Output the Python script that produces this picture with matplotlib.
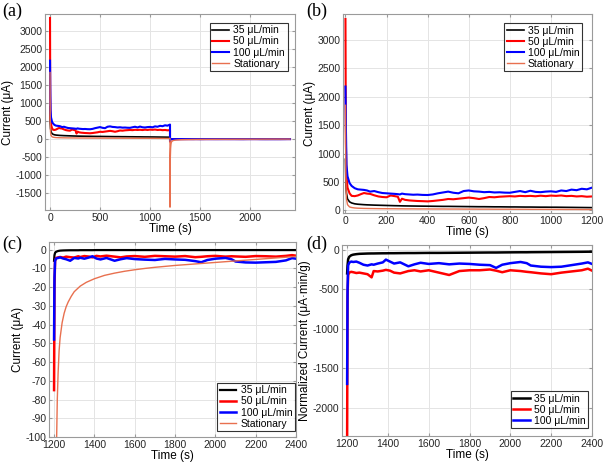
import numpy as np
import matplotlib
matplotlib.use("Agg")
import matplotlib.pyplot as plt

plt.rcParams["font.family"] = ["Liberation Sans", "DejaVu Sans"]
plt.rcParams["axes.unicode_minus"] = False

# charging phase, 0-1200 s (current in uA)
t_chg = [0, 2, 5, 10, 20, 30, 45, 60, 75, 90, 105, 120, 140, 160, 180, 200, 220, 240,
         255, 265, 275, 290, 310, 330, 350, 375, 400, 425, 450, 475, 500, 525, 550, 575,
         600, 625, 650, 675, 700, 725, 750, 775, 800, 825, 850, 875, 900, 925, 950, 975,
         1000, 1025, 1050, 1075, 1100, 1125, 1150, 1175, 1200]
chg_35 = [900, 450, 300, 200, 150, 130, 115, 108, 104, 100, 97, 95, 92, 90, 88, 86, 84, 82,
          81, 80, 79, 78, 77, 76, 75, 74, 73, 72, 71, 70, 70, 69, 68, 67,
          66, 65, 64, 64, 63, 62, 62, 61, 60, 60, 59, 58, 58, 57, 56, 56,
          55, 55, 54, 53, 52, 51, 50, 49, 48]
chg_50 = [3370, 1200, 600, 400, 300, 255, 250, 262, 285, 305, 295, 290, 265, 245, 235, 230, 262, 250,
          240, 150, 205, 185, 175, 170, 165, 162, 158, 165, 175, 185, 200, 195, 205, 215,
          225, 215, 200, 215, 235, 230, 240, 245, 250, 245, 255, 250, 255, 248, 258, 250,
          260, 255, 262, 250, 255, 245, 250, 240, 245]
chg_100 = [2180, 1500, 800, 600, 480, 430, 390, 370, 365, 360, 350, 330, 340, 320, 305, 300, 295, 290,
           285, 280, 295, 285, 280, 275, 278, 272, 270, 280, 300, 315, 330, 310, 300, 340,
           350, 335, 330, 320, 325, 315, 318, 312, 310, 325, 340, 320, 345, 325, 320, 330,
           335, 325, 350, 340, 365, 355, 380, 370, 400]
chg_st = [1850, 500, 200, 100, 60, 50, 42, 38, 36, 34, 33, 32, 31, 30, 29, 29, 28, 28,
          27, 27, 27, 26, 26, 26, 25, 25, 25, 24, 24, 24, 23, 23, 23, 22,
          22, 22, 21, 21, 21, 20, 20, 20, 20, 19, 19, 19, 18, 18, 18, 18,
          17, 17, 17, 16, 16, 16, 15, 15, 15]

# discharge phase, 1200-2400 s (current in uA)
t_dis = [1200, 1202, 1205, 1210, 1220, 1230, 1245, 1260, 1280, 1300, 1320, 1330, 1350, 1375,
         1390, 1410, 1430, 1460, 1500, 1530, 1560, 1600, 1650, 1700, 1750, 1800, 1850, 1900,
         1930, 1960, 2000, 2050, 2080, 2100, 2150, 2200, 2250, 2300, 2350, 2380, 2400]
dis_35 = [-6, -3, -1.8, -1.2, -0.8, -0.6, -0.5, -0.45, -0.4, -0.4, -0.4, -0.35, -0.35, -0.35,
          -0.35, -0.3, -0.3, -0.3, -0.3, -0.3, -0.3, -0.3, -0.3, -0.3, -0.3, -0.3, -0.3, -0.3,
          -0.3, -0.3, -0.3, -0.3, -0.3, -0.3, -0.3, -0.3, -0.3, -0.3, -0.3, -0.3, -0.3]
dis_50 = [-75, -20, -6, -4.5, -4.2, -4, -4.3, -3.8, -4.1, -4.3, -3.6, -4, -3.5, -3.8,
          -4.2, -3.4, -3.7, -3.3, -3.8, -4.2, -3.7, -3.5, -3.9, -3.4, -3.6, -3.8, -3.5, -4.1,
          -3.9, -3.6, -3.4, -3.8, -3.6, -3.7, -3.9, -3.5, -3.6, -3.8, -3.4, -3.0, -3.3]
dis_100 = [-48, -15, -6, -4.8, -4.5, -4.2, -4.8, -5.2, -6, -4.5, -4.8, -4.4, -4.9, -4.2,
           -3.6, -4.8, -5.3, -4.5, -6, -5.2, -4.6, -5.1, -5.4, -5.6, -5.0, -5.3, -5.5, -6.2,
           -6.8, -5.6, -4.9, -4.5, -5.2, -6.4, -6.9, -7, -6.8, -6.6, -5.8, -4.6, -4.9]
# stationary cell recorded on a denser grid around the spike
t_st = [1200, 1203, 1206, 1209, 1212, 1216, 1220, 1225, 1230, 1240, 1250, 1260, 1270, 1285,
        1300, 1330, 1360, 1400, 1450, 1500, 1550, 1600, 1650, 1700, 1750, 1800, 1850, 1900,
        1950, 2000, 2050, 2100, 2150, 2200, 2250, 2300, 2350, 2400]
dis_st = [-1900, -520, -260, -160, -105, -80, -66, -54, -47, -39, -34, -30.5, -28, -25,
          -22.5, -19.5, -17.5, -15.6, -13.8, -12.6, -11.6, -10.8, -10.1, -9.5, -9.0, -8.5, -8.1, -7.7,
          -7.3, -6.9, -6.5, -6.1, -5.7, -5.3, -4.9, -4.5, -4.1, -3.7]

# normalized discharge current (uA*min/g)
norm_35 = [-300, -200, -120, -90, -70, -62, -56, -52, -50, -48, -47, -47, -46, -45,
           -45, -44, -44, -43, -42, -42, -41, -40, -40, -39, -38, -37, -36, -35,
           -35, -34, -33, -32, -32, -31, -30, -29, -28, -27, -26, -25, -25]
norm_50 = [-2400, -600, -320, -290, -280, -285, -295, -290, -300, -310, -350, -270, -275, -265,
           -255, -265, -290, -300, -270, -260, -275, -260, -290, -320, -270, -260, -260, -250,
           -265, -285, -260, -270, -280, -285, -300, -310, -290, -275, -260, -240, -265]
norm_100 = [-1700, -500, -200, -165, -150, -155, -150, -165, -190, -200, -185, -190, -175, -160,
            -125, -150, -175, -160, -210, -185, -165, -180, -170, -185, -175, -180, -190, -195,
            -230, -190, -170, -155, -170, -200, -215, -220, -215, -195, -175, -160, -180]

labels = ["35 \u03bcL/min", "50 \u03bcL/min", "100 \u03bcL/min", "Stationary"]
colors = ["black", "#ff0000", "#0000ff", "#e8704f"]


def style(ax):
    ax.grid(True, color="#e4e4e4", linewidth=0.7)
    ax.set_axisbelow(True)
    for s in ax.spines.values():
        s.set_color("#9a9a9a")
        s.set_linewidth(0.8)
    ax.tick_params(direction="in", length=2.5, labelsize=7.5, colors="#9a9a9a",
                   labelcolor="#262626", top=True, right=True, pad=2)
    ax.xaxis.label.set_size(8.5)
    ax.yaxis.label.set_size(8.5)


def add_legend(ax, loc, anchor):
    leg = ax.legend(loc=loc, bbox_to_anchor=anchor, fontsize=7.5, frameon=True,
                    fancybox=False, edgecolor="black", handlelength=1.6,
                    handletextpad=0.4, borderpad=0.25, labelspacing=0.1,
                    borderaxespad=0)
    leg.get_frame().set_linewidth(0.8)


fig = plt.figure(figsize=(6.06, 4.69), dpi=100)

# (a) full run
ax = fig.add_axes([0.0743, 0.5522, 0.4125, 0.4179])
ax.plot(t_chg + t_dis, chg_35 + dis_35, color=colors[0], lw=1.2, label=labels[0])
ax.plot(t_chg + t_dis, chg_50 + dis_50, color=colors[1], lw=1.5, label=labels[1])
ax.plot(t_chg + t_dis, chg_100 + dis_100, color=colors[2], lw=1.5, label=labels[2])
ax.plot(t_chg + t_st, chg_st + dis_st, color=colors[3], lw=1.0, label=labels[3])
ax.set_xlim(-50, 2450)
ax.set_ylim(-1980, 3480)
ax.set_xticks(np.arange(0, 2001, 500))
ax.set_yticks(np.arange(-1500, 3001, 500))
ax.set_xlabel("Time (s)", labelpad=0)
ax.set_ylabel("Current (\u03bcA)", labelpad=1)
add_legend(ax, "upper right", (0.97, 0.955))
style(ax)

# (b) charging
ax = fig.add_axes([0.566, 0.5458, 0.4109, 0.4243])
ax.plot(t_chg, chg_35, color=colors[0], lw=1.2, label=labels[0])
ax.plot(t_chg, chg_50, color=colors[1], lw=1.5, label=labels[1])
ax.plot(t_chg, chg_100, color=colors[2], lw=1.5, label=labels[2])
ax.plot(t_chg, chg_st, color=colors[3], lw=1.0, label=labels[3])
ax.set_xlim(-12, 1200)
ax.set_ylim(-47, 3457)
ax.set_xticks(np.arange(0, 1201, 200))
ax.set_yticks(np.arange(0, 3001, 500))
ax.set_xlabel("Time (s)", labelpad=0)
ax.set_ylabel("Current (\u03bcA)", labelpad=1)
add_legend(ax, "upper right", (0.96, 0.955))
style(ax)

# (c) discharge
ax = fig.add_axes([0.0809, 0.0682, 0.4076, 0.4158])
ax.plot(t_dis, dis_35, color=colors[0], lw=1.6, label=labels[0])
ax.plot(t_dis, dis_50, color=colors[1], lw=1.8, label=labels[1])
ax.plot(t_dis, dis_100, color=colors[2], lw=1.8, label=labels[2])
ax.plot(t_st, dis_st, color=colors[3], lw=1.0, label=labels[3])
ax.set_xlim(1175, 2400)
ax.set_ylim(-100, 4)
ax.set_xticks(np.arange(1200, 2401, 200))
ax.set_yticks(np.arange(-100, 1, 10))
ax.set_xlabel("Time (s)", labelpad=0)
ax.set_ylabel("Current (\u03bcA)", labelpad=1)
add_legend(ax, "lower right", (0.995, 0.03))
style(ax)

# (d) normalized discharge
ax = fig.add_axes([0.5644, 0.0704, 0.4125, 0.4072])
for y, c, lab in zip([norm_35, norm_50, norm_100], colors, labels):
    ax.plot(t_dis, y, color=c, lw=1.8, label=lab)
ax.set_xlim(1175, 2400)
ax.set_ylim(-2360, 60)
ax.set_xticks(np.arange(1200, 2401, 200))
ax.set_yticks(np.arange(-2000, 1, 500))
ax.set_xlabel("Time (s)", labelpad=0)
ax.set_ylabel("Normalized Current (\u03bcA\u00b7min/g)", labelpad=1)
add_legend(ax, "lower right", (0.985, 0.04))
style(ax)

for x, y, s in [(0.004, 0.995, "(a)"), (0.505, 0.995, "(b)"),
                (0.004, 0.497, "(c)"), (0.505, 0.497, "(d)")]:
    fig.text(x, y, s, va="top", ha="left", fontsize=13, family="Liberation Serif")

fig.savefig("out.png", dpi=100)
